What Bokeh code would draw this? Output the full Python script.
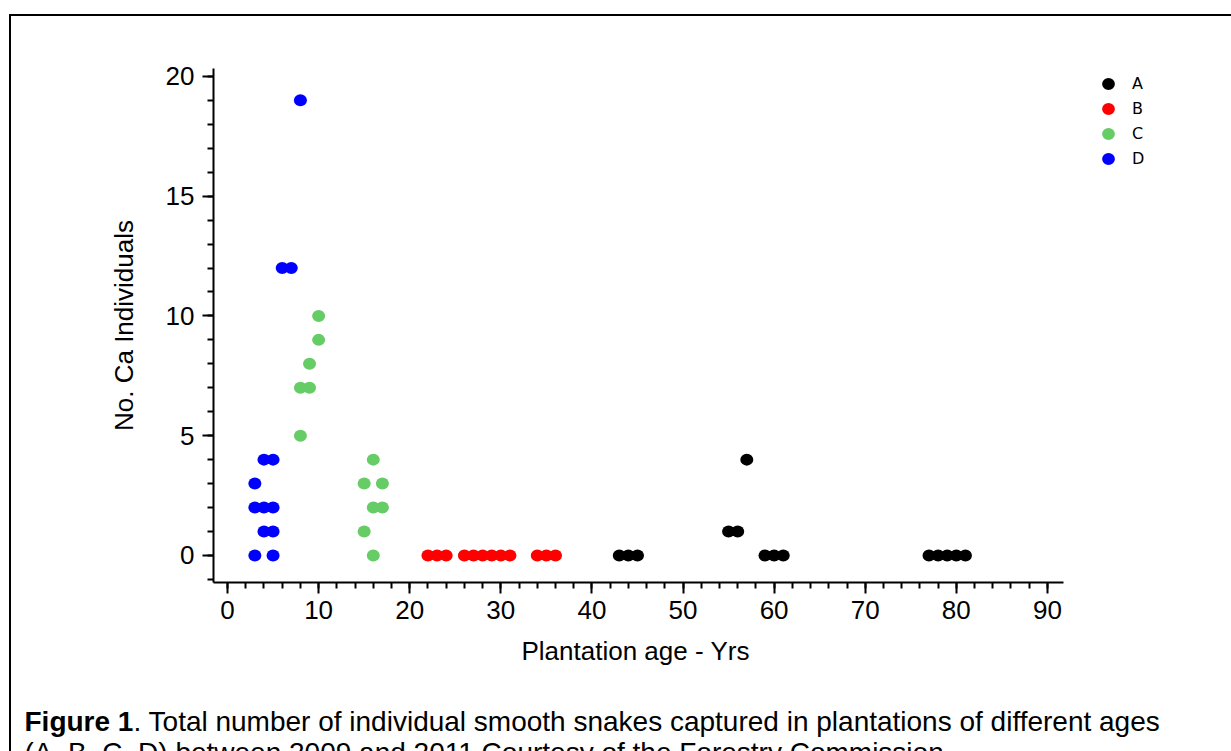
from bokeh.plotting import figure
from bokeh.layouts import column
from bokeh.models import Range1d, Legend, LegendItem, FixedTicker, Title
from bokeh.core.properties import value
from bokeh.embed import file_html
from bokeh.resources import INLINE

# ---- data ----
group_names = ["A", "B", "C", "D"]
group_colors = ["#000000", "#ff0000", "#66cc66", "#0000ff"]

A_age = [43, 44, 45, 55, 56, 57, 59, 60, 61, 77, 78, 79, 80, 81]
A_count = [0, 0, 0, 1, 1, 4, 0, 0, 0, 0, 0, 0, 0, 0]

B_age = [22, 23, 24, 26, 27, 28, 29, 30, 31, 34, 35, 36]
B_count = [0, 0, 0, 0, 0, 0, 0, 0, 0, 0, 0, 0]

C_age = [8, 8, 9, 9, 10, 10, 15, 15, 16, 16, 16, 17, 17]
C_count = [5, 7, 7, 8, 9, 10, 1, 3, 0, 2, 4, 2, 3]

D_age = [3, 5, 4, 5, 3, 4, 5, 3, 4, 5, 6, 7, 8]
D_count = [0, 0, 1, 1, 2, 2, 2, 3, 4, 4, 12, 12, 19]

x_ticks = [0, 10, 20, 30, 40, 50, 60, 70, 80, 90]
x_minor_ticks = list(range(0, 91, 2))
y_ticks = [0, 5, 10, 15, 20]
y_minor_ticks = list(range(-1, 21))

x_label = "Plantation age - Yrs"
y_label = "No. Ca Individuals"
caption_bold = ["Figure 1"]
caption_line1 = [". Total number of individual smooth snakes captured in plantations of different ages"]
caption_line2 = ["(A, B, C, D) between 2009 and 2011.Courtesy of the Forestry Commission."]

# ---- layout constants (pixels) ----
W = 1231
H_CHART, H_CAPTION = 695, 56
FL, FT, FB = 213, 68, 582            # frame left / top / bottom in the chart canvas
X0, X_AXIS_END = -1.54, 91.77        # data value at frame left, and where the x axis stops
PX_PER_X = 9.11

frame_css = {
    "background-color": "white",
    "background-image": "linear-gradient(#000, #000), linear-gradient(#000, #000)",
    "background-size": "1222px 2px, 2px 700px",
    "background-position": "9px 14px, 9px 14px",
    "background-repeat": "no-repeat",
}
caption_css = {
    "background-color": "white",
    "background-image": "linear-gradient(#000, #000)",
    "background-size": "2px 100%",
    "background-position": "9px 0px",
    "background-repeat": "no-repeat",
}

# ---- chart ----
p = figure(width=W, height=H_CHART, output_backend="svg", toolbar_location=None,
           x_range=Range1d(X0, X0 + (W - FL) / PX_PER_X), y_range=Range1d(-1.13, 20.33),
           min_border_left=FL, min_border_right=0,
           min_border_top=FT, min_border_bottom=H_CHART - FB,
           frame_align=False, styles=frame_css)
p.outline_line_color = None
p.grid.visible = False
p.background_fill_color = None
p.border_fill_color = None

series = [(A_age, A_count), (B_age, B_count), (C_age, C_count), (D_age, D_count)]
renderers = []
for (xs, ys), color in zip(series, group_colors):
    r = p.ellipse(x=xs, y=ys, width=13, height=12, width_units="screen", height_units="screen",
                  fill_color=color, line_color=None)
    renderers.append(r)

for ax in (p.xaxis[0], p.yaxis[0]):
    ax.axis_line_width = 2
    ax.axis_line_color = "black"
    ax.major_tick_line_width = 2
    ax.minor_tick_line_width = 2
    ax.major_tick_in = 0
    ax.major_tick_out = 11
    ax.minor_tick_in = 0
    ax.minor_tick_out = 6
    ax.major_label_text_font = "Liberation Sans"
    ax.major_label_text_font_size = "26px"
    ax.major_label_text_color = "black"
    ax.axis_label_text_font = "Liberation Sans"
    ax.axis_label_text_font_size = "26px"
    ax.axis_label_text_font_style = "normal"
    ax.axis_label_text_color = "black"

p.xaxis[0].ticker = FixedTicker(ticks=x_ticks, minor_ticks=x_minor_ticks)
p.yaxis[0].ticker = FixedTicker(ticks=y_ticks, minor_ticks=y_minor_ticks)
p.xaxis[0].bounds = (X0, X_AXIS_END)
p.yaxis[0].axis_label = y_label
p.xaxis[0].major_label_standoff = 7
p.yaxis[0].major_label_standoff = 8
p.yaxis[0].axis_label_standoff = 24

# x-axis title, centred under the axis line (the frame runs on to the right edge)
p.add_layout(Title(text=x_label, align="left", offset=308, standoff=24,
                   text_font="Liberation Sans", text_font_size="26px",
                   text_font_style="normal", text_color="black"), "below")

legend = Legend(items=[LegendItem(label=n, renderers=[r]) for n, r in zip(group_names, renderers)],
                location=(887, 411), padding=0, margin=0, spacing=0,
                glyph_width=16, glyph_height=25, label_height=25, label_standoff=16,
                label_text_font="DejaVu Sans", label_text_font_size="16px",
                label_text_color="black",
                border_line_color=None, background_fill_alpha=0)
p.add_layout(legend, "center")

# ---- caption ----
c = figure(width=W, height=H_CAPTION, output_backend="svg", toolbar_location=None,
           x_range=Range1d(0, W), y_range=Range1d(H_CHART + H_CAPTION, H_CHART),
           x_axis_type=None, y_axis_type=None, min_border=0,
           frame_align=False, styles=caption_css)
c.outline_line_color = None
c.grid.visible = False
c.background_fill_color = None
c.border_fill_color = None
c.text(x=[24], y=[721], text=caption_bold, text_font=value("Liberation Sans"),
       text_font_size="28px", text_font_style="bold", text_color="black",
       text_baseline="alphabetic", text_align="left")
c.text(x=[133], y=[721], text=caption_line1, text_font=value("Liberation Sans"),
       text_font_size="28px", text_color="black",
       text_baseline="alphabetic", text_align="left")
c.text(x=[24], y=[752], text=caption_line2, text_font=value("Liberation Sans"),
       text_font_size="28px", text_color="black",
       text_baseline="alphabetic", text_align="left")

layout = column(p, c, spacing=0)
open("out.html", "w").write(file_html(layout, INLINE))
